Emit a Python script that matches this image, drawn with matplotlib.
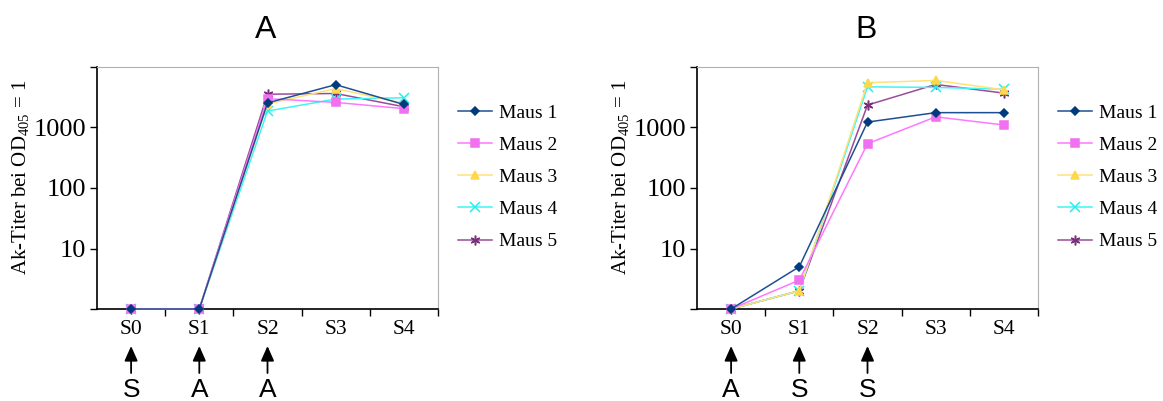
import matplotlib
matplotlib.use("Agg")
import matplotlib.pyplot as plt
import matplotlib.transforms as mtransforms
from matplotlib.ticker import FixedLocator, NullFormatter, NullLocator

plt.rcParams['font.family'] = ['Liberation Serif', 'DejaVu Serif']
plt.rcParams['mathtext.fontset'] = 'custom'
plt.rcParams['mathtext.rm'] = 'Liberation Serif'

categories = ['S0', 'S1', 'S2', 'S3', 'S4']
mice = ['Maus 1', 'Maus 2', 'Maus 3', 'Maus 4', 'Maus 5']

titer_a = [
    [1, 1, 2550, 5100, 2400],
    [1, 1, 3000, 2600, 2050],
    [1, 1, 2450, 4400, 2500],
    [1, 1, 1870, 2950, 3100],
    [1, 1, 3550, 3650, 2200],
]
titer_b = [
    [1, 5, 1230, 1760, 1760],
    [1, 3, 540, 1500, 1100],
    [1, 2, 5500, 6000, 4200],
    [1, 2, 4700, 4600, 4300],
    [1, 2, 2350, 5150, 3700],
]
immun_a = ['S', 'A', 'A']
immun_b = ['A', 'S', 'S']

line_colors = ['#1f4f93', '#ff77ff', '#ffe27a', '#3ff5f5', '#9a4c9a']
face_colors = ['#003b80', '#f070f0', '#ffd84a', '#22eeee', '#7a2f7a']
markers = ['D', 's', '^', 'x', (6, 2, 0)]
msizes = [4.5, 5.5, 6, 6.5, 7]

W, H = 1163, 401
fig = plt.figure(figsize=(W / 100, H / 100), dpi=100)

def panel(x0, title, data, immun):
    ax = fig.add_axes([x0 / W, 1 - 309 / H, 341 / W, 242 / H])
    xs = list(range(len(categories)))
    handles = []
    for i, vals in enumerate(data):
        h, = ax.plot(xs, vals, color=line_colors[i], lw=1.1,
                     marker=markers[i], ms=msizes[i],
                     mfc=face_colors[i], mec=face_colors[i], mew=1.1,
                     clip_on=False, zorder=3 + (4 - i) * 0.1)
        handles.append(h)
    ax.set_yscale('log')
    ax.set_ylim(1, 10000)
    ax.set_xlim(-0.5, len(categories) - 0.5)
    ax.yaxis.set_major_locator(FixedLocator([1, 10, 100, 1000, 10000]))
    ax.yaxis.set_minor_locator(NullLocator())
    ax.set_yticklabels(['', '10', '100', '1000', ''])
    ax.tick_params(axis='y', which='major', direction='out', length=5,
                   width=1, labelsize=19, pad=3)
    ax.xaxis.set_major_locator(FixedLocator([i + 0.5 for i in xs]))
    ax.xaxis.set_major_formatter(NullFormatter())
    ax.xaxis.set_minor_locator(FixedLocator(xs))
    ax.set_xticklabels(categories, minor=True)
    ax.tick_params(axis='x', which='major', direction='out', length=5, width=1)
    ax.tick_params(axis='x', which='minor', length=0, labelsize=15.5, pad=8)
    for s in ['top', 'right']:
        ax.spines[s].set_color('#b0b0b0')
    for s in ['left', 'bottom']:
        ax.spines[s].set_color('black')
        ax.spines[s].set_linewidth(1.2)
    fig.text((x0 + 169) / W, 1 - 30 / H, title, ha='center', va='center',
             fontsize=23, family='Liberation Sans')
    fig.text((x0 - 76) / W, 1 - 177 / H, r'Ak-Titer bei OD$_{405}$ = 1',
             rotation=90, ha='center', va='center', fontsize=15)
    trans = mtransforms.blended_transform_factory(ax.transData, fig.transFigure)
    for i, lab in enumerate(immun):
        ax.annotate('', xy=(i, 1 - 346 / H), xytext=(i, 1 - 373 / H),
                    xycoords=trans, textcoords=trans,
                    arrowprops=dict(arrowstyle='-|>,head_length=0.9,head_width=0.4',
                                    color='black', lw=1.3, shrinkA=0, shrinkB=0))
        ax.text(i, 1 - 390 / H, lab, transform=trans, ha='center', va='center',
                fontsize=19, family='Liberation Sans')
    fig.legend(handles, mice, loc='upper left',
               bbox_to_anchor=((x0 + 361) / W, 1 - 104 / H), frameon=False,
               fontsize=14, handlelength=1.75, labelspacing=0.75,
               handletextpad=0.35, borderaxespad=0, borderpad=0)
    return ax

panel(97, 'A', titer_a, immun_a)
panel(697, 'B', titer_b, immun_b)

fig.savefig('out.png', dpi=100)
